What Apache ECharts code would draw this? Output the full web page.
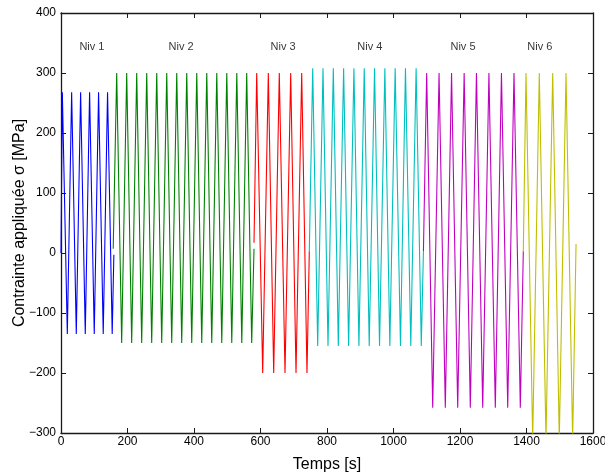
<!DOCTYPE html>
<html>
<head>
<meta charset="utf-8">
<script src="https://cdn.jsdelivr.net/npm/echarts@6/dist/echarts.min.js"></script>
<style>html,body{margin:0;padding:0;background:#fff;overflow:hidden;}#c{width:605px;height:475px;}</style>
</head>
<body>
<div id="c"></div>
<script>
// Time [s] and stress [MPa] for each loading level
const niv1Time   = [0, 4, 19, 32, 46, 59, 73, 86, 100, 113, 127, 140, 154, 159];
const niv1Stress = [0, 268, -135, 268, -135, 268, -135, 268, -135, 268, -135, 268, -135, -3];

const niv2Time   = [157, 167.5, 182.5, 197.6, 212.6, 227.7, 242.7, 257.8, 272.8, 287.9, 302.9, 318, 333, 348.1, 363.1, 378.2, 393.2, 408.3, 423.3, 438.4, 453.4, 468.5, 483.5, 498.6, 513.6, 528.7, 543.7, 558.5, 573.5, 580.5];
const niv2Stress = [7, 300, -150, 300, -150, 300, -150, 300, -150, 300, -150, 300, -150, 300, -150, 300, -150, 300, -150, 300, -150, 300, -150, 300, -150, 300, -150, 300, -150, 7];

const niv3Time   = [580.5, 588.6, 606.6, 623.5, 639.7, 656.5, 673.7, 690.8, 706.8, 723.9, 739.8, 746.8];
const niv3Stress = [17, 300, -200, 300, -200, 300, -200, 300, -200, 300, -200, 3];

const niv4Time   = [746.8, 757, 772, 788, 803, 819, 834, 850, 865, 881, 896, 912, 927, 943, 958, 974, 989, 1005, 1021, 1036, 1052, 1068, 1083.6, 1090];
const niv4Stress = [3, 308, -155, 308, -155, 308, -155, 308, -155, 308, -155, 308, -155, 308, -155, 308, -155, 308, -155, 308, -155, 308, -155, 3];

const niv5Time   = [1090, 1099.8, 1117.9, 1137, 1155.8, 1174.6, 1193.1, 1212.5, 1231, 1249.5, 1268.3, 1287, 1306.2, 1324.7, 1343.5, 1362.4, 1381.4, 1390.4];
const niv5Stress = [3, 300, -258, 300, -258, 300, -258, 300, -258, 300, -258, 300, -258, 300, -258, 300, -258, 3];

const niv6Time   = [1390.4, 1398.5, 1418.6, 1438.5, 1458.6, 1478.8, 1498.6, 1518.8, 1538.8, 1549];
const niv6Stress = [3, 300, -310, 300, -310, 300, -310, 300, -310, 15];

const levelColors = ['#0000ff', '#008000', '#ff0000', '#00bfbf', '#bf00bf', '#bfbf00'];

const labelText = ['Niv 1', 'Niv 2', 'Niv 3', 'Niv 4', 'Niv 5', 'Niv 6'];
const labelTime = [93, 361, 668, 929, 1209, 1440];
const labelStress = [343, 343, 343, 343, 343, 343];

const xTicks = { min: 0, max: 1600, interval: 200 };
const yTicks = { min: -300, max: 400, interval: 100 };

const FONT = "'Liberation Sans', Arial, Helvetica, sans-serif";

const levels = [
  [niv1Time, niv1Stress], [niv2Time, niv2Stress], [niv3Time, niv3Stress],
  [niv4Time, niv4Stress], [niv5Time, niv5Stress], [niv6Time, niv6Stress]
];

const series = levels.map((lv, i) => ({
  type: 'line',
  data: lv[0].map((t, k) => [t, lv[1][k]]),
  showSymbol: false,
  symbol: 'none',
  clip: true,
  lineStyle: { color: levelColors[i], width: 1.1 },
  itemStyle: { color: levelColors[i] },
  animation: false,
  z: 2
}));

series.push({
  type: 'scatter',
  data: labelText.map((n, i) => ({ name: n, value: [labelTime[i], labelStress[i]] })),
  symbolSize: 0,
  label: {
    show: true, position: 'inside', formatter: p => p.name,
    color: '#000', fontSize: 11, fontFamily: FONT
  },
  animation: false,
  z: 5
});

const numFmt = v => (v < 0 ? '\u2212' + Math.abs(v) : String(v));

const axisCommon = {
  axisLine: { show: true, onZero: false, lineStyle: { color: '#1a1a1a', width: 1.3 } },
  axisTick: { show: true, inside: true, length: 5, lineStyle: { color: '#1a1a1a' } },
  splitLine: { show: false }
};

const chart = echarts.init(document.getElementById('c'), null, { renderer: 'canvas' });
chart.setOption({
  animation: false,
  backgroundColor: '#fff',
  grid: { left: 61, right: 12, top: 13, bottom: 42, containLabel: false, outerBoundsMode: 'none' },
  xAxis: [
    Object.assign({
      type: 'value', position: 'bottom', min: xTicks.min, max: xTicks.max, interval: xTicks.interval,
      name: 'Temps [s]', nameLocation: 'middle', nameGap: 24, nameMoveOverlap: false,
      nameTextStyle: { fontSize: 16, color: '#000', fontFamily: FONT },
      axisLabel: { show: true, color: '#000', fontSize: 12, fontFamily: FONT, margin: 3, formatter: numFmt }
    }, axisCommon),
    Object.assign({
      type: 'value', position: 'top', min: xTicks.min, max: xTicks.max, interval: xTicks.interval,
      axisLabel: { show: false }
    }, axisCommon)
  ],
  yAxis: [
    Object.assign({
      type: 'value', position: 'left', min: yTicks.min, max: yTicks.max, interval: yTicks.interval,
      name: 'Contrainte appliquée σ [MPa]', nameLocation: 'middle', nameGap: 33, nameMoveOverlap: false,
      nameTextStyle: { fontSize: 16, color: '#000', fontFamily: FONT },
      axisLabel: { show: true, color: '#000', fontSize: 12, fontFamily: FONT, margin: 5, formatter: numFmt }
    }, axisCommon),
    Object.assign({
      type: 'value', position: 'right', min: yTicks.min, max: yTicks.max, interval: yTicks.interval,
      axisLabel: { show: false }
    }, axisCommon)
  ],
  series: series
});
</script>
</body>
</html>
